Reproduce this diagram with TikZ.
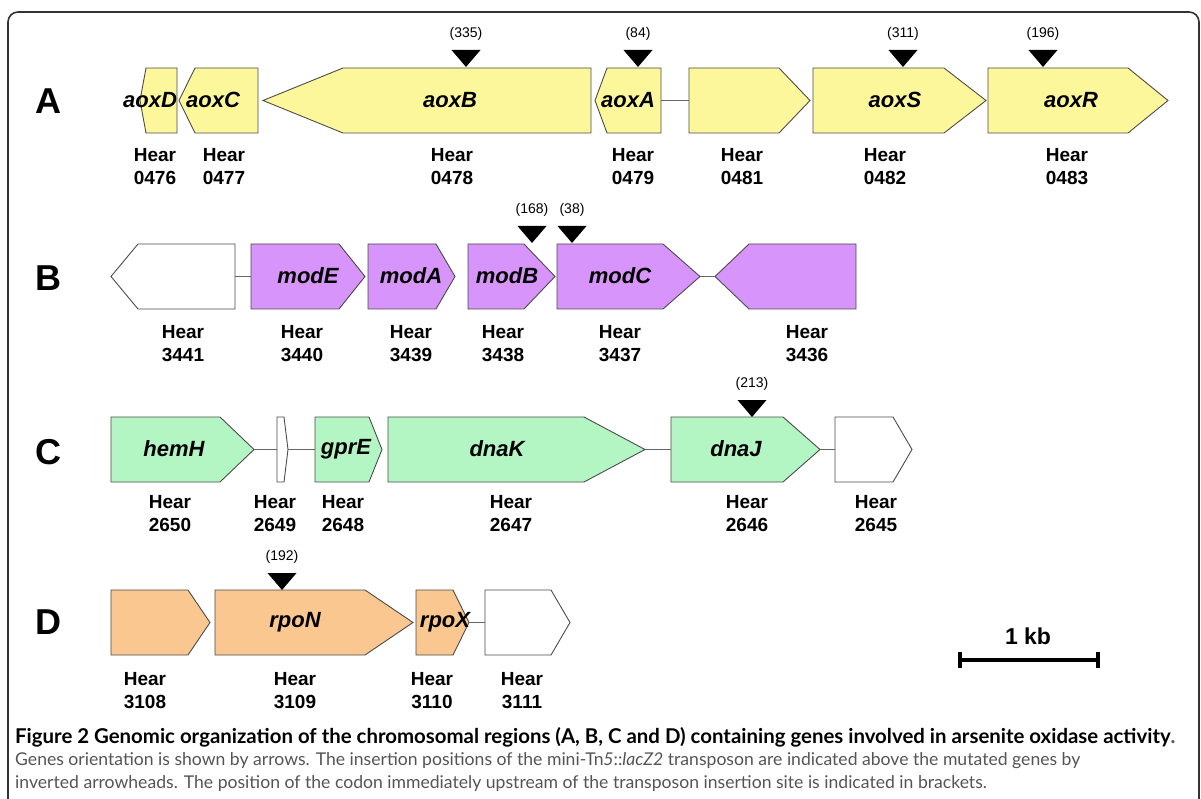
\documentclass[tikz,border=0pt]{standalone}
\usepackage{fontspec}
\setmainfont{Liberation Sans}
\newfontfamily\capfont{Lato}
\usepackage{xcolor}
\usetikzlibrary{positioning}

\definecolor{aoxfill}{HTML}{FDF79B}
\definecolor{modfill}{HTML}{D794FA}
\definecolor{dnafill}{HTML}{B4F5C4}
\definecolor{rpofill}{HTML}{F9C78F}
\definecolor{capgrey}{HTML}{555555}

\begin{document}
\begin{tikzpicture}[x=1pt,y=-1pt,
  gene/.style={draw=black!70, line width=0.9pt, line join=miter},
  link/.style={draw=black!60, line width=1pt},
  gname/.style={font=\fontsize{22}{22}\selectfont\bfseries\itshape},
  locus/.style={align=center, font=\fontsize{19}{23}\selectfont\bfseries},
  rowlbl/.style={font=\fontsize{36}{36}\selectfont\bfseries},
  ins/.style={font=\fontsize{14}{14}\selectfont},
  capline/.style={anchor=west, inner sep=0pt, font=\capfont\fontsize{17.6}{17.6}\selectfont, text=capgrey}
]
\useasboundingbox (0,0) rectangle (1201,799);
\fill[white] (0,0) rectangle (1201,799);

% frame
\draw[black!80, line width=1.6pt, rounded corners=10pt] (8,805) -- (8,12) -- (1199,12) -- (1199,805);

% row A
\node[rowlbl] (A) at (48,101) {A};
\draw[gene, fill=aoxfill] (140,100.5) -- (146,68) -- (177,68) -- (177,133) -- (146,133) -- cycle;
\draw[gene, fill=aoxfill] (179,100.5) -- (195,68) -- (258,68) -- (258,133) -- (195,133) -- cycle;
\draw[gene, fill=aoxfill] (263,100.5) -- (343,68) -- (591,68) -- (591,133) -- (343,133) -- cycle;
\draw[gene, fill=aoxfill] (595,100.5) -- (607,68) -- (661,68) -- (661,100.5) coordinate (g0479e) -- (661,133) -- (607,133) -- cycle;
\draw[gene, fill=aoxfill] (689,100.5) coordinate (g0481w) -- (689,68) -- (779,68) -- (810,100.5) -- (779,133) -- (689,133) -- cycle;
\draw[gene, fill=aoxfill] (813,68) -- (944,68) -- (986,100.5) -- (944,133) -- (813,133) -- cycle;
\draw[gene, fill=aoxfill] (988,68) -- (1128,68) -- (1168,100.5) -- (1128,133) -- (988,133) -- cycle;
\draw[link] (g0479e) -- (g0481w);
\node[gname] (aoxD) at (150,100) {aoxD};
\node[gname] (aoxC) at (213,100) {aoxC};
\node[gname] (aoxB) at (450,100) {aoxB};
\node[gname] (aoxA) at (628,100) {aoxA};
\node[gname] (aoxS) at (895,100) {aoxS};
\node[gname] (aoxR) at (1071,100) {aoxR};
\node[locus] (h0476) at (155,167) {Hear\\0476};
\node[locus] (h0477) at (224,167) {Hear\\0477};
\node[locus] (h0478) at (452,167) {Hear\\0478};
\node[locus] (h0479) at (633,167) {Hear\\0479};
\node[locus] (h0481) at (742,167) {Hear\\0481};
\node[locus] (h0482) at (885,167) {Hear\\0482};
\node[locus] (h0483) at (1067,167) {Hear\\0483};

% row B
\node[rowlbl] (B) at (48,278) {B};
\draw[gene, fill=white] (111,276.5) -- (138,244) -- (235,244) -- (235,276.5) coordinate (g3441e) -- (235,309) -- (138,309) -- cycle;
\draw[gene, fill=modfill] (251,276.5) coordinate (g3440w) -- (251,244) -- (339,244) -- (365,276.5) -- (339,309) -- (251,309) -- cycle;
\draw[gene, fill=modfill] (368,244) -- (436,244) -- (455,276.5) -- (436,309) -- (368,309) -- cycle;
\draw[gene, fill=modfill] (468,244) -- (524,244) -- (555,276.5) -- (524,309) -- (468,309) -- cycle;
\draw[gene, fill=modfill] (557,244) -- (663,244) -- (700,276.5) coordinate (g3437e) -- (663,309) -- (557,309) -- cycle;
\draw[gene, fill=modfill] (715,276.5) coordinate (g3436w) -- (749,244) -- (856,244) -- (856,309) -- (749,309) -- cycle;
\draw[link] (g3441e) -- (g3440w);
\draw[link] (g3437e) -- (g3436w);
\node[gname] (modE) at (308,276) {modE};
\node[gname] (modA) at (411,276) {modA};
\node[gname] (modB) at (507,276) {modB};
\node[gname] (modC) at (620,276) {modC};
\node[locus] (h3441) at (183,344) {Hear\\3441};
\node[locus] (h3440) at (302,344) {Hear\\3440};
\node[locus] (h3439) at (411,344) {Hear\\3439};
\node[locus] (h3438) at (503,344) {Hear\\3438};
\node[locus] (h3437) at (620,344) {Hear\\3437};
\node[locus] (h3436) at (807,344) {Hear\\3436};

% row C
\node[rowlbl] (C) at (48,452) {C};
\draw[gene, fill=dnafill] (111,417) -- (220,417) -- (254,449.5) coordinate (g2650e) -- (220,482) -- (111,482) -- cycle;
\draw[gene, fill=white] (277,449.5) coordinate (g2649w) -- (277,417) -- (284,417) -- (288,449.5) coordinate (g2649e) -- (284,482) -- (277,482) -- cycle;
\draw[gene, fill=dnafill] (315,449.5) coordinate (g2648w) -- (315,417) -- (369,417) -- (382,449.5) -- (369,482) -- (315,482) -- cycle;
\draw[gene, fill=dnafill] (388,417) -- (584,417) -- (645,449.5) coordinate (g2647e) -- (584,482) -- (388,482) -- cycle;
\draw[gene, fill=dnafill] (671,449.5) coordinate (g2646w) -- (671,417) -- (783,417) -- (820,449.5) coordinate (g2646e) -- (783,482) -- (671,482) -- cycle;
\draw[gene, fill=white] (835,449.5) coordinate (g2645w) -- (835,417) -- (893,417) -- (912,449.5) -- (893,482) -- (835,482) -- cycle;
\draw[link] (g2650e) -- (g2649w);
\draw[link] (g2649e) -- (g2648w);
\draw[link] (g2647e) -- (g2646w);
\draw[link] (g2646e) -- (g2645w);
\node[gname] (hemH) at (174,449) {hemH};
\node[gname] (gprE) at (346,449) {gprE};
\node[gname] (dnaK) at (497,449) {dnaK};
\node[gname] (dnaJ) at (736,449) {dnaJ};
\node[locus] (h2650) at (170,514) {Hear\\2650};
\node[locus] (h2649) at (275,514) {Hear\\2649};
\node[locus] (h2648) at (343,514) {Hear\\2648};
\node[locus] (h2647) at (511,514) {Hear\\2647};
\node[locus] (h2646) at (747,514) {Hear\\2646};
\node[locus] (h2645) at (876,514) {Hear\\2645};

% row D
\node[rowlbl] (D) at (48,622) {D};
\draw[gene, fill=rpofill] (111,590) -- (188,590) -- (210,622.5) -- (188,655) -- (111,655) -- cycle;
\draw[gene, fill=rpofill] (215,590) -- (365,590) -- (413,622.5) -- (365,655) -- (215,655) -- cycle;
\draw[gene, fill=rpofill] (416,590) -- (453,590) -- (469,622.5) coordinate (g3110e) -- (453,655) -- (416,655) -- cycle;
\draw[gene, fill=white] (485,622.5) coordinate (g3111w) -- (485,590) -- (551,590) -- (570,622.5) -- (551,655) -- (485,655) -- cycle;
\draw[link] (g3110e) -- (g3111w);
\node[gname] (rpoN) at (295,622) {rpoN};
\node[gname] (rpoX) at (445,622) {rpoX};
\node[locus] (h3108) at (145,691) {Hear\\3108};
\node[locus] (h3109) at (295,691) {Hear\\3109};
\node[locus] (h3110) at (432,691) {Hear\\3110};
\node[locus] (h3111) at (522,691) {Hear\\3111};

% insertion sites
\foreach \x/\y/\n in {466/67/335, 638/67/84, 903/67/311, 1043/67/196, 532/243/168, 572/243/38, 752/417/213, 282/590/192}{
  \fill (\x,\y) -- (\x-14.5,\y-17) -- (\x+14.5,\y-17) -- cycle;
  \node[ins] (i\n) at (\x,\y-33) {(\n)};
}

% scale bar
\coordinate (sbl) at (960,660);
\coordinate (sbr) at (1098,660);
\draw[line width=4pt] (sbl) -- (sbr);
\draw[line width=4pt] ([yshift=-8]sbl) -- ([yshift=8]sbl);
\draw[line width=4pt] ([yshift=-8]sbr) -- ([yshift=8]sbr);
\node[font=\fontsize{23}{23}\selectfont\bfseries] (kb) at (1028,636) {1 kb};

% caption
\node[capline, text=black, font=\capfont\fontsize{20.4}{20.4}\selectfont] (cap1) at (15,737) {\bfseries Figure 2 Genomic organization of the chromosomal regions (A, B, C and D) containing genes involved in arsenite oxidase activity\textcolor{capgrey}{.}};
\node[capline] (cap2) at (15,761) {Genes orientation is shown by arrows. The insertion positions of the mini-Tn\textit{5}::\textit{lacZ2} transposon are indicated above the mutated genes by};
\node[capline] (cap3) at (15,784) {inverted arrowheads. The position of the codon immediately upstream of the transposon insertion site is indicated in brackets.};
\end{tikzpicture}
\end{document}
